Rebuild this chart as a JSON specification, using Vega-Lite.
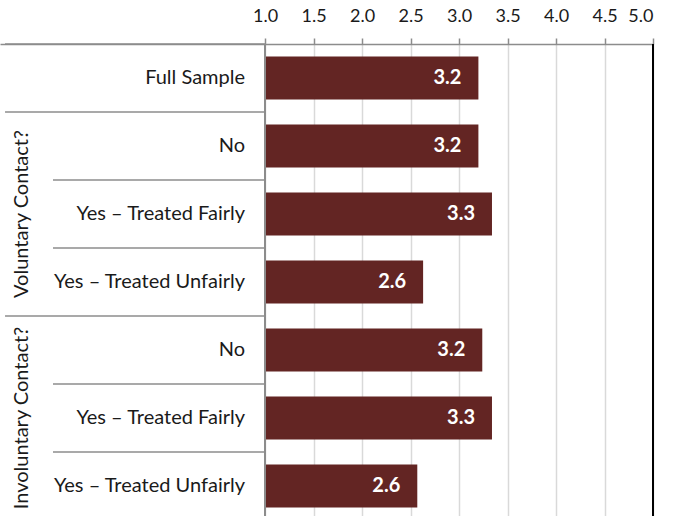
{
  "$schema": "https://vega.github.io/schema/vega-lite/v6.json",
  "width": 653,
  "height": 472,
  "autosize": {"type": "none"},
  "padding": {"left": 0, "top": 44, "right": 31, "bottom": 0},
  "background": "white",
  "config": {"view": {"stroke": null}, "font": "Lato"},
  "data": {
    "values": [
      {"key": "full", "group": "", "item": "Full Sample", "pos": 1, "value": 3.2},
      {"key": "vol_no", "group": "Voluntary Contact?", "item": "No", "pos": 1, "value": 3.2},
      {"key": "vol_fair", "group": "Voluntary Contact?", "item": "Yes – Treated Fairly", "pos": 2, "value": 3.34},
      {"key": "vol_unfair", "group": "Voluntary Contact?", "item": "Yes – Treated Unfairly", "pos": 3, "value": 2.63},
      {"key": "inv_no", "group": "Involuntary Contact?", "item": "No", "pos": 1, "value": 3.24},
      {"key": "inv_fair", "group": "Involuntary Contact?", "item": "Yes – Treated Fairly", "pos": 2, "value": 3.34},
      {"key": "inv_unfair", "group": "Involuntary Contact?", "item": "Yes – Treated Unfairly", "pos": 3, "value": 2.57}
    ]
  },
  "layer": [
    {
      "mark": {"type": "bar", "color": "#632523", "height": {"band": 0.63}},
      "encoding": {
        "y": {
          "field": "key", "type": "nominal", "sort": null, "axis": null,
          "scale": {"range": [0, 476], "paddingInner": 0, "paddingOuter": 0}
        },
        "x": {
          "field": "value", "type": "quantitative",
          "scale": {"domain": [-1.732, 5], "nice": false, "zero": false},
          "axis": {
            "orient": "top", "title": null,
            "values": [1, 1.5, 2, 2.5, 3, 3.5, 4, 4.5, 5],
            "format": ".1f",
            "labelFontSize": 18, "labelColor": "#1a1a1a", "labelPadding": 13,
            "tickSize": 6, "tickColor": "#8c8c8c", "tickWidth": 1.5,
            "domainColor": "#8c8c8c", "domainWidth": 1.5,
            "grid": true, "gridColor": "#d9d9d9", "gridWidth": 1.5
          }
        },
        "x2": {"datum": 1}
      }
    },
    {
      "mark": {"type": "rule", "color": "#8c8c8c", "strokeWidth": 2},
      "encoding": {"x": {"datum": 1}}
    },
    {
      "mark": {"type": "rule", "color": "#000000", "strokeWidth": 2},
      "encoding": {"x": {"datum": 5}}
    },
    {
      "transform": [{"filter": "datum.pos == 1"}],
      "mark": {"type": "rule", "color": "#8c8c8c", "strokeWidth": 1.5},
      "encoding": {
        "y": {"field": "key", "type": "nominal", "sort": null, "bandPosition": 0},
        "x": {"datum": -1.68},
        "x2": {"datum": 1}
      }
    },
    {
      "transform": [{"filter": "datum.pos > 1"}],
      "mark": {"type": "rule", "color": "#8c8c8c", "strokeWidth": 1.5},
      "encoding": {
        "y": {"field": "key", "type": "nominal", "sort": null, "bandPosition": 0},
        "x": {"datum": -1.186},
        "x2": {"datum": 1}
      }
    },
    {
      "mark": {"type": "text", "align": "right", "baseline": "middle", "fontSize": 20, "color": "#1a1a1a"},
      "encoding": {
        "y": {"field": "key", "type": "nominal", "sort": null},
        "x": {"datum": 0.794},
        "text": {"field": "item"}
      }
    },
    {
      "transform": [{"filter": "datum.pos == 2 && datum.group != ''"}],
      "mark": {"type": "text", "align": "center", "baseline": "middle", "angle": 270, "fontSize": 20, "color": "#1a1a1a"},
      "encoding": {
        "y": {"field": "key", "type": "nominal", "sort": null},
        "x": {"datum": -1.505},
        "text": {"field": "group"}
      }
    },
    {
      "mark": {"type": "text", "align": "right", "baseline": "middle", "dx": -17, "fontSize": 20, "fontWeight": "bold", "color": "white"},
      "encoding": {
        "y": {"field": "key", "type": "nominal", "sort": null},
        "x": {"field": "value", "type": "quantitative"},
        "text": {"field": "value", "type": "quantitative", "format": ".1f"}
      }
    }
  ]
}
